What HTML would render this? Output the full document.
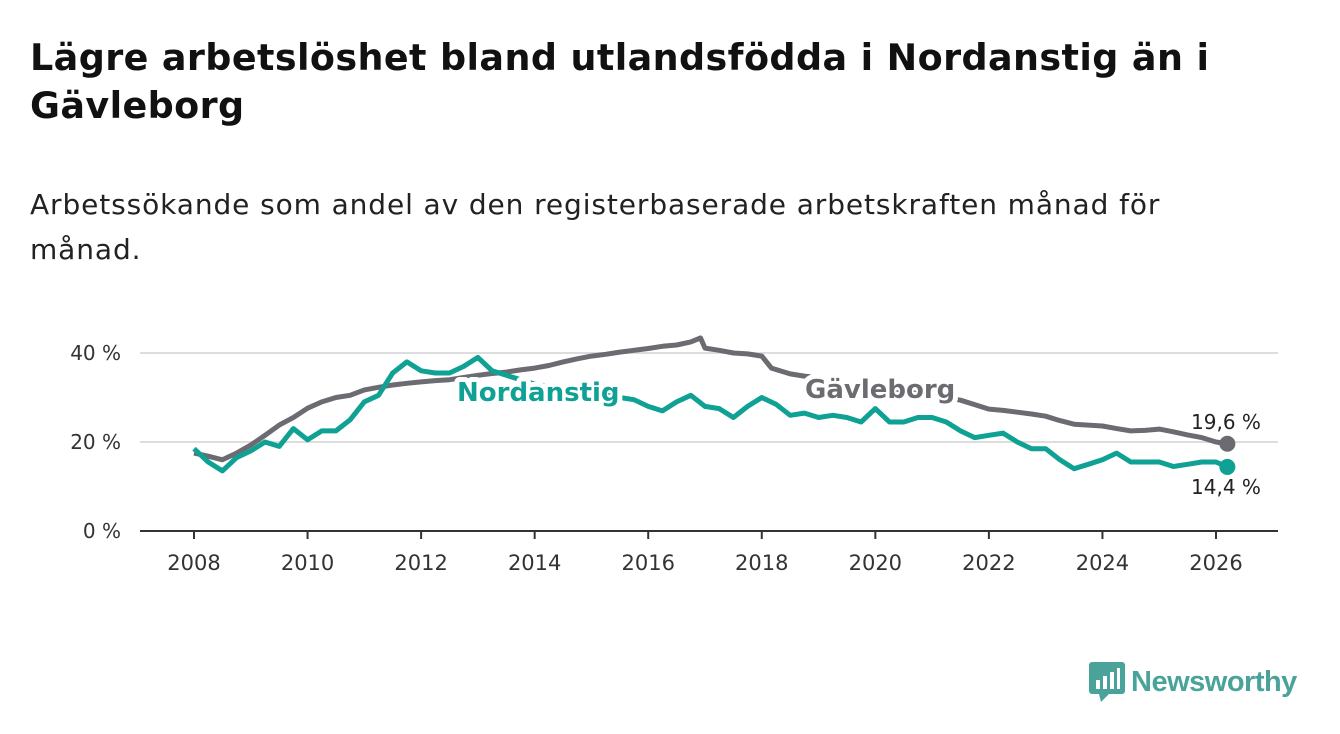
<!DOCTYPE html>
<html><head><meta charset="utf-8">
<style>
body{margin:0;background:#fff;width:1340px;height:734px;overflow:hidden;font-family:"DejaVu Sans","Liberation Sans",sans-serif;}
h1{position:absolute;left:30px;top:34px;margin:0;font-size:36.5px;line-height:48px;font-weight:bold;color:#111;white-space:nowrap;letter-spacing:0.4px;}
p{position:absolute;left:30px;top:182px;margin:0;font-size:28px;line-height:45px;color:#222;white-space:nowrap;letter-spacing:0.9px;}
</style></head><body>
<h1>Lägre arbetslöshet bland utlandsfödda i Nordanstig än i<br>Gävleborg</h1>
<p>Arbetssökande som andel av den registerbaserade arbetskraften månad för<br>månad.</p>
<svg id="chart" width="1340" height="734" style="position:absolute;left:0;top:0"></svg>
<div style="position:absolute;left:1089px;top:662px;display:flex;align-items:center">
<svg width="36" height="40"><rect x="0" y="0" width="36" height="32" rx="3" fill="#4aa39a"/><polygon points="10,32 20,32 12,40" fill="#4aa39a"/><rect x="7" y="18" width="4" height="9" fill="#fff"/><rect x="14" y="14" width="4" height="13" fill="#fff"/><rect x="21" y="10" width="4" height="17" fill="#fff"/><rect x="28" y="6" width="3" height="21" fill="#fff"/></svg>
<span style="margin-left:6px;font-size:29px;color:#4aa39a;font-weight:bold;letter-spacing:-0.5px;font-family:'Liberation Sans',sans-serif">Newsworthy</span></div>
<script>
const years=[2008,2010,2012,2014,2016,2018,2020,2022,2024,2026];
const yTicks=[0,20,40];
const tG=[2008,2008.25,2008.5,2008.75,2009,2009.25,2009.5,2009.75,2010,2010.25,2010.5,2010.75,2011,2011.25,2011.5,2011.75,2012,2012.25,2012.5,2012.75,2013,2013.25,2013.5,2013.75,2014,2014.25,2014.5,2014.75,2015,2015.25,2015.5,2015.75,2016,2016.25,2016.5,2016.75,2016.92,2017,2017.25,2017.5,2017.75,2018,2018.17,2018.5,2018.75,2019,2019.5,2020,2020.5,2021,2021.5,2021.75,2022,2022.25,2022.5,2022.75,2023,2023.25,2023.5,2023.75,2024,2024.25,2024.5,2024.75,2025,2025.25,2025.5,2025.75,2026,2026.2];
const gavleborg=[17.5,16.8,16,17.5,19.3,21.5,23.8,25.5,27.6,29,30,30.5,31.7,32.3,32.8,33.2,33.5,33.8,34,34.5,35,35.4,35.7,36.2,36.6,37.2,38,38.7,39.3,39.7,40.2,40.6,41,41.5,41.8,42.5,43.4,41.1,40.6,40,39.8,39.3,36.6,35.3,34.8,34.4,33.2,32,31.3,30.5,29.4,28.4,27.4,27.1,26.7,26.3,25.8,24.8,24,23.8,23.6,23,22.5,22.6,22.9,22.3,21.6,21,20,19.6];
const tN=[2008,2008.25,2008.5,2008.75,2009,2009.25,2009.5,2009.75,2010,2010.25,2010.5,2010.75,2011,2011.25,2011.5,2011.75,2012,2012.25,2012.5,2012.75,2013,2013.25,2013.5,2013.75,2014,2014.5,2015,2015.5,2015.75,2016,2016.25,2016.5,2016.75,2017,2017.25,2017.5,2017.75,2018,2018.25,2018.5,2018.75,2019,2019.25,2019.5,2019.75,2020,2020.25,2020.5,2020.75,2021,2021.25,2021.5,2021.75,2022,2022.25,2022.5,2022.75,2023,2023.25,2023.5,2023.75,2024,2024.25,2024.5,2024.75,2025,2025.25,2025.5,2025.75,2026,2026.2];
const nordanstig=[18.5,15.5,13.5,16.5,18,20,19,23,20.5,22.5,22.5,25,29,30.5,35.5,38,36,35.5,35.5,37,39,36,35,34,33,32,31,30,29.5,28,27,29,30.5,28,27.5,25.5,28,30,28.5,26,26.5,25.5,26,25.5,24.5,27.5,24.5,24.5,25.5,25.5,24.5,22.5,21,21.5,22,20,18.5,18.5,16,14,15,16,17.5,15.5,15.5,15.5,14.5,15,15.5,15.5,14.4];
const NS="http://www.w3.org/2000/svg",svg=document.getElementById('chart');
const x0=194,x1=1216,yb=531,ppu=4.45;
const X=t=>x0+(t-2008)*(x1-x0)/18, Y=v=>yb-v*ppu;
function mk(tag,a,txt){const e=document.createElementNS(NS,tag);for(const k in a)e.setAttribute(k,a[k]);if(txt!=null)e.textContent=txt;svg.appendChild(e);return e;}
yTicks.forEach(v=>{
 if(v>0){const g=mk('line',{x1:140,x2:1278,y1:Y(v),y2:Y(v),stroke:'#ddd','stroke-width':2});
 
 }
 const l=mk('text',{x:121,y:Y(v)+7,'text-anchor':'end','font-size':20,fill:'#333'},v+' %');
 
 
});
const ax=mk('line',{x1:140,x2:1278,y1:yb,y2:yb,stroke:'#333','stroke-width':2});


years.forEach(yr=>{
 const tk=mk('line',{x1:X(yr),x2:X(yr),y1:yb,y2:yb+8,stroke:'#333','stroke-width':2});
 
 
 const l=mk('text',{x:X(yr),y:570,'text-anchor':'middle','font-size':21,fill:'#333'},yr);
 
 
});
function line(ts,vs,col,name){
 const d=ts.map((t,i)=>(i?'L':'M')+X(t).toFixed(1)+','+Y(vs[i]).toFixed(1)).join('');
 const p=mk('path',{d:d,fill:'none',stroke:col,'stroke-width':5,'stroke-linejoin':'round'});
 
 
 const n=ts.length-1;
 const c=mk('circle',{cx:X(ts[n]),cy:Y(vs[n]),r:8,fill:col});
 
 
}
line(tG,gavleborg,'#6d6b72','gavleborg');
line(tN,nordanstig,'#0fa193','nordanstig');
const ls={'font-size':26,'font-weight':'bold',stroke:'#fff','stroke-width':10,'paint-order':'stroke','stroke-linejoin':'round'};
const l1=mk('text',Object.assign({x:457,y:401,fill:'#0fa193'},ls),'Nordanstig');


const l2=mk('text',Object.assign({x:805,y:398,fill:'#6d6b72'},ls),'Gävleborg');


const v1=mk('text',{x:1226,y:429,'text-anchor':'middle','font-size':20,fill:'#222'},gavleborg[gavleborg.length-1].toFixed(1).replace('.',',')+' %');


const v2=mk('text',{x:1226,y:494,'text-anchor':'middle','font-size':20,fill:'#222'},nordanstig[nordanstig.length-1].toFixed(1).replace('.',',')+' %');


</script>
</body></html>
